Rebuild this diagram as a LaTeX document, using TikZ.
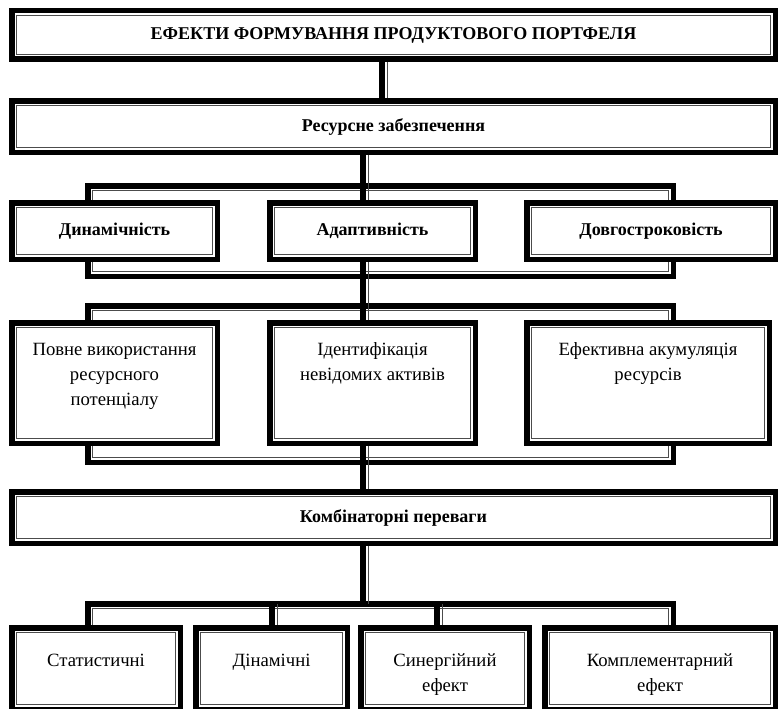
\documentclass[tikz,border=0pt]{standalone}
\usepackage{fontspec}
\setmainfont{Liberation Serif}
\usepackage{tikz}

\pgfdeclarelayer{bg}
\pgfsetlayers{bg,main}

\tikzset{
  frame/.style={draw, line width=5.5pt, fill=white, inner sep=0pt, outer sep=0pt,
    path picture={\draw[line width=0.9pt, black!70]
      ([shift={(5pt,-5pt)}]path picture bounding box.north west) rectangle
      ([shift={(-5pt,5pt)}]path picture bounding box.south east);}},
  bracket/.style={frame, fill=none},
  head/.style={font=\fontsize{18}{22}\selectfont\bfseries},
  txt/.style={font=\fontsize{18.7}{25}\selectfont, align=center, inner sep=0pt},
  vlink/.style={line width=5.5pt,
    postaction={draw=black!70, line width=0.9pt, transform canvas={xshift=5pt}}}
}

\begin{document}
\begin{tikzpicture}[x=1pt, y=-1pt]
    \useasboundingbox (0,0) rectangle (784,709);

    % Axes of the vertical connectors
    \coordinate (topaxis) at (382,0);
    \coordinate (axis) at (363,0);

    % Boxes of the upper part
    \node[frame, head, minimum width=763.5pt, minimum height=48.5pt] (effects) at (393.5,35)
        {ЕФЕКТИ ФОРМУВАННЯ ПРОДУКТОВОГО ПОРТФЕЛЯ};
    \node[frame, head, minimum width=763.5pt, minimum height=51.5pt] (resources) at (393.5,126.5)
        {Ресурсне забезпечення};

    % Second row
    \node[frame, head, minimum width=205.5pt, minimum height=56.5pt] (dynamic) at (114.5,231) {Динамічність};
    \node[frame, head, minimum width=205.5pt, minimum height=56.5pt] (adaptive) at (372.5,231) {Адаптивність};
    \node[frame, head, minimum width=248.5pt, minimum height=56.5pt] (longterm) at (651,231) {Довгостроковість};

    % Third row
    \node[frame, minimum width=205.5pt, minimum height=120.5pt] (full) at (114.5,383) {};
    \node[frame, minimum width=205.5pt, minimum height=120.5pt] (ident) at (372.5,383) {};
    \node[frame, minimum width=242.5pt, minimum height=120.5pt] (accum) at (648,383) {};
    \node[txt, anchor=north] (full-t) at ([yshift=-20pt]full.north)
        {Повне використання\\ресурсного\\потенціалу};
    \node[txt, anchor=north] (ident-t) at ([yshift=-20pt]ident.north)
        {Ідентифікація\\невідомих активів};
    \node[txt, anchor=north] (accum-t) at ([yshift=-20pt]accum.north)
        {Ефективна акумуляція\\ресурсів};

    % Combinatorial box
    \node[frame, head, minimum width=763.5pt, minimum height=51.5pt] (combo) at (393.5,517.5)
        {Комбінаторні переваги};

    % Bottom row
    \node[frame, minimum width=168.5pt, minimum height=81.5pt] (static) at (96,668.5) {};
    \node[frame, minimum width=151.5pt, minimum height=81.5pt] (dynam) at (271.5,668.5) {};
    \node[frame, minimum width=168.5pt, minimum height=81.5pt] (synergy) at (445,668.5) {};
    \node[frame, minimum width=230.5pt, minimum height=81.5pt] (compl) at (660,668.5) {};
    \node[txt, anchor=north] (static-t) at ([yshift=-26pt]static.north) {Статистичні};
    \node[txt, anchor=north] (dynam-t) at ([yshift=-26pt]dynam.north) {Дінамічні};
    \node[txt, anchor=north] (synergy-t) at ([yshift=-26pt]synergy.north) {Синергійний\\ефект};
    \node[txt, anchor=north] (compl-t) at ([yshift=-26pt]compl.north) {Комплементарний\\ефект};

    \begin{pgfonlayer}{bg}
    % Frames behind the rows
    \node[bracket, minimum width=585.5pt, minimum height=90.5pt] (frame1) at (380.5,231) {};
    \node[bracket, minimum width=585.5pt, minimum height=156.5pt] (frame2) at (380.5,384) {};
    \node[bracket, minimum width=585.5pt, minimum height=133.5pt] (frame3) at (380.5,670.5) {};

    % Vertical connectors
    \draw[vlink] (effects.south -| topaxis) -- (resources.north -| topaxis);
    \draw[vlink] (resources.south -| axis) -- (combo.north -| axis);
    \draw[vlink] (combo.south -| axis) -- (frame3.north -| axis);
    \draw[vlink] (frame3.north -| dynam.north) ++(0.5,0) coordinate (leg1) -- (leg1 |- dynam.north);
    \draw[vlink] (frame3.north -| synergy.north) ++(-8,0) coordinate (leg2) -- (leg2 |- synergy.north);
    \end{pgfonlayer}

\end{tikzpicture}
\end{document}
